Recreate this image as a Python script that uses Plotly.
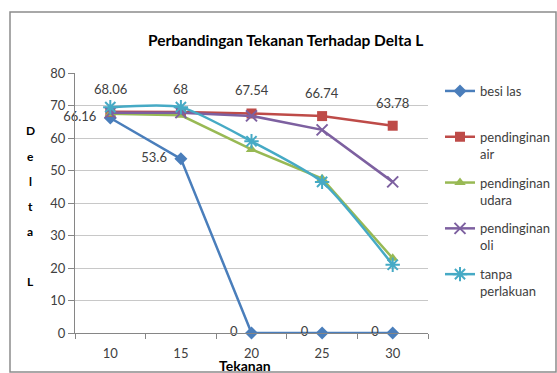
import plotly.graph_objects as go

tekanan = ["10", "15", "20", "25", "30"]
besi_las = [66.16, 53.6, 0, 0, 0]
pendinginan_air = [68.06, 68, 67.54, 66.74, 63.78]
pendinginan_udara = [67.5, 67.0, 56.5, 47.5, 23.0]
pendinginan_oli = [67.8, 67.8, 66.8, 62.5, 46.5]
tanpa_perlakuan = [69.5, 69.5, 59.0, 46.5, 21.0]

FONT = "Lato, 'Open Sans', sans-serif"
TXT = "#404040"

fig = go.Figure()

fig.add_trace(go.Scatter(
    x=tekanan, y=besi_las, name="besi las<br>&nbsp;", mode="lines+markers+text",
    text=[f"{v:g}" for v in besi_las], texttemplate="%{text}\u00a0\u00a0",
    textposition="middle left",
    textfont=dict(size=13, color=TXT, family=FONT), cliponaxis=False,
    line=dict(color="#4A7EBB", width=2.5),
    marker=dict(symbol="diamond", size=10, color="#4A7EBB"),
    legendgroup="a"))
fig.add_trace(go.Scatter(
    x=tekanan, y=pendinginan_air, name="pendinginan<br>air", mode="lines+markers",
    line=dict(color="#BE4B48", width=2.5),
    marker=dict(symbol="square", size=10, color="#BE4B48"),
    legendgroup="b"))
fig.add_trace(go.Scatter(
    x=tekanan, y=pendinginan_udara, name="pendinginan<br>udara", mode="lines+markers",
    line=dict(color="#98B954", width=2.5),
    marker=dict(symbol="triangle-up", size=10, color="#98B954"),
    legendgroup="c"))
fig.add_trace(go.Scatter(
    x=tekanan, y=pendinginan_oli, name="pendinginan<br>oli", mode="lines+markers",
    line=dict(color="#7D60A0", width=2.5),
    marker=dict(symbol="x-thin-open", size=11, color="#7D60A0", line=dict(width=2, color="#7D60A0")),
    legendgroup="d"))
fig.add_trace(go.Scatter(
    x=tekanan, y=tanpa_perlakuan, name="tanpa<br>perlakuan", mode="lines+markers",
    line=dict(color="#46AAC5", width=2.5, shape="spline", smoothing=0.6),
    marker=dict(symbol="asterisk-open", size=12, color="#46AAC5", line=dict(width=2, color="#46AAC5")),
    legendgroup="e"))

# labels above red series (category index positions)
for i, yv in enumerate(pendinginan_air):
    fig.add_annotation(x=i, y=yv, text=f"{yv:g}", showarrow=False, yshift=23,
                       font=dict(size=13, color=TXT, family=FONT))

# stacked y-axis title letters
letters = ["D", "e", "l", "t", "a", "", "L"]
ypix = [130, 156, 181, 206, 231, 256, 281]
for ch, py in zip(letters, ypix):
    if ch:
        fig.add_annotation(xref="paper", yref="paper", x=(30 - 75) / 353, y=(333 - py) / 260,
                           text=f"<b>{ch}</b>", showarrow=False, xanchor="center", yanchor="middle",
                           font=dict(size=12, color="#000000", family=FONT))

fig.add_annotation(xref="paper", yref="paper", x=(245 - 75) / 353, y=(333 - 365) / 260,
                   text="<b>Tekanan</b>", showarrow=False, xanchor="center", yanchor="middle",
                   font=dict(size=14, color="#000000", family=FONT))

fig.add_annotation(xref="paper", yref="paper", x=(285 - 75) / 353, y=(333 - 40) / 260,
                   text="<b>Perbandingan Tekanan Terhadap Delta L</b>", showarrow=False,
                   xanchor="center", yanchor="middle",
                   font=dict(size=15.5, color="#000000", family=FONT))

# outer chart frame
fig.add_shape(type="rect", xref="paper", yref="paper",
              x0=(10 - 75) / 353, x1=(556 - 75) / 353,
              y0=(333 - 372) / 260, y1=(333 - 12) / 260,
              line=dict(color="#8C8C8C", width=1.5), fillcolor="rgba(0,0,0,0)", layer="below")

fig.update_layout(
    width=557, height=373,
    margin=dict(l=75, r=129, t=73, b=40, autoexpand=False),
    paper_bgcolor="white", plot_bgcolor="white",
    font=dict(family=FONT, size=12, color=TXT),
    showlegend=True,
    legend=dict(xref="container", yref="container", x=440 / 557, xanchor="left",
                y=1 - 76 / 373, yanchor="top", maxheight=320,
                font=dict(size=13, color=TXT, family=FONT),
                valign="top", tracegroupgap=9, traceorder="grouped",
                itemwidth=30, bgcolor="rgba(0,0,0,0)"),
    xaxis=dict(type="category", categoryorder="array", categoryarray=tekanan,
               range=[-0.5, len(tekanan) - 0.5],
               showgrid=False, showline=True, linecolor="#868686", linewidth=1,
               ticks="outside", ticklen=5, tickcolor="#868686", tickson="boundaries",
               ticklabelstandoff=8, tickfont=dict(size=13, color=TXT)),
    yaxis=dict(range=[0, 80], dtick=10, showgrid=True, gridcolor="#C8C8C8", gridwidth=1.3,
               showline=True, linecolor="#868686", ticks="outside", ticklen=6, tickcolor="#868686",
               zeroline=False, tickfont=dict(size=13, color=TXT)),
)

fig.write_html("out.html")
